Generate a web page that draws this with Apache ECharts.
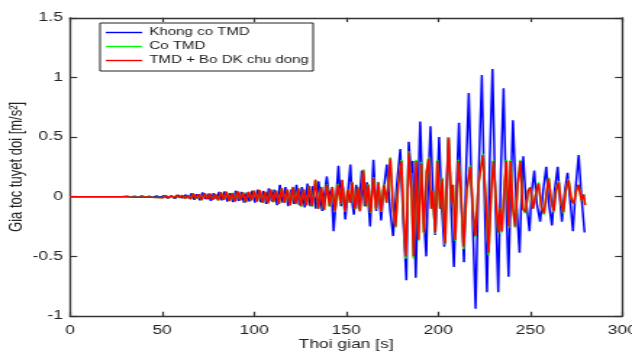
<!DOCTYPE html>
<html>
<head>
<meta charset="utf-8">
<script src="https://cdn.jsdelivr.net/npm/echarts@6/dist/echarts.min.js"></script>
<style>
  html, body { margin: 0; padding: 0; background: #fff; }
  #wrap { width: 632px; height: 354px; overflow: hidden; position: relative; }
  /* the figure is laid out narrow and widened, like the exported plot */
  #chart { width: 436px; height: 354px; transform: scaleX(1.4495); transform-origin: 0 0; }
</style>
</head>
<body>
<div id="wrap"><div id="chart"></div></div>
<script>
// Time axis ticks
const xTicks = [0, 50, 100, 150, 200, 250, 300];
const yTicks = [-1, -0.5, 0, 0.5, 1, 1.5];

const seriesNames = ['Khong co TMD', 'Co TMD', 'TMD + Bo DK chu dong'];

// Without TMD: time [s] and absolute acceleration [m/s^2]
const noTmdTime = [
  0, 28, 31, 33, 35, 37, 39, 41, 43, 45, 47, 49,
  51, 53, 55, 57, 59, 61, 63, 64.5,
  66, 67.5, 69, 70.5, 72, 73.5, 75, 76.5, 78, 79.5,
  81, 82.5, 84, 85.5, 87, 88.5, 90, 91.5, 93, 94.5, 96, 97.5, 99,
  100.5, 102, 103.5, 105, 106.5, 108, 109.5, 111, 112.5, 114,
  115.5, 117, 118.5, 120, 121.5, 123, 124.5, 126, 127.5, 129,
  130.5, 132, 133.5, 135, 137, 139.5,
  141, 142, 143.2, 144.5, 145.8, 147.2, 148.2, 149.5, 151, 152.3, 153.3, 154.2, 155.5, 156.8, 158.5, 160,
  161.3, 163, 164.8, 166.3, 167.5, 169, 170.3, 172.1, 173.8, 175.5, 177.5, 179.4,
  181, 182.7, 184, 185.3, 186.2, 187.8, 189, 190.2, 191.8, 193.5, 194.5, 195.8, 197, 198.4, 199.3,
  200.5, 202, 203.3, 204.5, 205.6, 207, 208.5, 210, 211.3, 212.7, 214, 215.3, 216.6, 218.3,
  220.3, 222, 223.7, 225, 226.5, 228, 229.5, 231, 232.6, 234, 235.5, 237, 238.2, 239.5,
  240.6, 242.3, 244.2, 245, 246.2, 247.5, 249.6, 250.8, 252.2, 253.5, 255.4, 257, 258.7, 260,
  261.8, 263.2, 264.9, 266, 267.2, 268.8, 270.3, 271.5, 273.2, 274.8, 276.3, 277.8, 279.5
];
const noTmdAcc = [
  0, 0, 0.004, -0.003, 0.005, -0.004, 0.006, -0.005, 0.004, -0.006, 0.007, -0.005,
  0.01, -0.012, 0.008, -0.015, 0.012, -0.01, 0.016, -0.012,
  0.03, -0.025, 0.02, -0.03, 0.035, -0.02, 0.025, -0.035, 0.03, -0.02,
  0.04, -0.03, 0.045, -0.04, 0.03, -0.045, 0.05, -0.035, 0.04, -0.05, 0.035, -0.04, 0.05,
  -0.05, 0.06, -0.045, 0.05, -0.06, 0.07, -0.04, 0.06, -0.07, 0.1,
  -0.05, 0.08, -0.08, 0.06, -0.06, 0.1, -0.07, 0.08, -0.09, 0.11,
  -0.08, 0.09, -0.1, 0.13, -0.12, 0.17,
  -0.02, 0.06, -0.29, -0.02, 0.26, -0.08, 0.08, -0.19, 0.05, 0.27, -0.05, -0.15, 0.1, -0.1, 0.22, -0.08,
  0.12, -0.25, 0.31, -0.12, 0.1, -0.2, 0.05, 0.27, -0.1, -0.33, 0.1, 0.4,
  -0.2, -0.7, 0.46, 0.2, 0.3, -0.68, 0, 0.63, -0.1, -0.5, 0.1, 0.59, 0.1, -0.32, 0,
  0.5, -0.1, -0.42, 0.1, 0.5, -0.1, -0.59, 0.1, 0.62, -0.1, -0.55, 0.3, 0.87, 0,
  -0.94, 0.2, 1.02, 0.1, -0.8, 0.3, 1.07, 0, -0.8, 0.2, 0.91, -0.1, -0.67, 0.1,
  0.64, 0, -0.47, -0.1, 0.34, 0, -0.29, 0.05, 0.22, -0.05, -0.21, 0.05, 0.25, -0.05,
  -0.24, 0.05, 0.25, 0, -0.21, 0.05, 0.2, 0, -0.29, 0.1, 0.35, 0, -0.3
];

// With TMD and with TMD + active controller share one time base
const tmdTime = [
  0, 30, 31, 32.5, 34, 35.5, 37, 38.5, 40, 41.5, 43, 44.5, 46, 47.5, 49,
  50.5, 52, 53.5, 55, 56.5, 58, 59.5, 61, 62.5, 64,
  65.5, 67, 68.5, 70, 71.5, 73, 74.5, 76, 77.5, 79,
  80.5, 82, 83.5, 85, 86.5, 88, 89.5, 91, 92.5, 94, 95.5, 97, 98.5,
  100, 101.5, 103, 104.5, 106, 107.5, 109, 110.5, 112, 113.5,
  115, 116.5, 118, 119.5, 121, 122.5, 124, 125.5, 127, 128.5, 130,
  131.5, 133.3, 135, 136.5, 138, 139.5,
  141, 142.5, 144, 145.5, 147, 147.8, 149.3, 150.8, 152, 153.3, 154.8, 156.3, 157.5, 159.4,
  160.8, 162, 163.3, 164.8, 166.2, 167.5, 169, 170.5, 172, 174, 175.5, 176.8, 178.3,
  180, 181.3, 182.4, 184, 185.5, 186.6, 188, 189.3, 190.8, 192.2, 193.6, 194.8, 196.2, 197, 198.4, 199.5,
  201, 202.2, 203.8, 205.6, 207.2, 208, 209.3, 211, 212.3, 213.8, 215.5, 217.4, 218.8,
  220.2, 221.8, 224.3, 225.8, 227.4, 229, 230, 231.3, 232.6, 233.5, 234.6, 236, 237, 238.3, 239.3,
  240.6, 241.8, 243.2, 244.6, 246, 247.5, 248.8, 250, 251.5, 253, 254.5, 256, 257.5, 259,
  260, 261.5, 262.8, 264, 265.4, 266.8, 268, 269.3, 270.8, 272.3, 273.5, 275, 276.3, 277.8, 279, 279.8
];
const tmdAcc = [
  0, 0, 0.003, -0.003, 0.004, -0.004, 0.003, -0.005, 0.004, -0.003, 0.005, -0.005, 0.004, -0.006, 0.005,
  -0.008, 0.011, -0.012, 0.009, -0.01, 0.014, -0.009, 0.012, -0.015, 0.01,
  -0.02, 0.026, -0.016, 0.02, -0.03, 0.03, -0.021, 0.026, -0.026, 0.02,
  -0.032, 0.036, -0.026, 0.042, -0.036, 0.031, -0.042, 0.046, -0.031, 0.036, -0.047, 0.041, -0.031,
  0.052, -0.041, 0.057, -0.052, 0.041, -0.057, 0.062, -0.046, 0.052, -0.062,
  0.072, -0.052, 0.062, -0.072, 0.083, -0.062, 0.072, -0.083, 0.062, -0.072, 0.093,
  -0.083, 0.145, -0.104, 0.083, -0.114, 0.104,
  -0.083, 0.083, -0.125, 0.104, -0.062, 0.145, -0.125, 0.062, -0.052, 0.125, -0.104, 0.083, -0.125, 0.23,
  -0.083, 0.104, -0.135, 0.166, -0.104, 0.125, -0.125, 0.104, -0.052, 0.33, -0.104, -0.26, 0.104,
  0.31, -0.21, -0.52, 0.38, 0.05, -0.52, 0.31, -0.37, 0.29, -0.31, 0.21, 0.33, -0.1, 0.05, -0.31, 0.31,
  -0.1, 0.16, -0.4, 0.5, -0.05, 0.1, -0.37, 0.31, 0.05, -0.44, 0.05, 0.26, -0.1,
  -0.34, 0.1, 0.36, 0, -0.49, 0.1, 0.31, 0, -0.31, -0.1, -0.3, 0.1, 0.31, -0.26, 0.31,
  -0.1, -0.26, 0.1, 0.31, -0.1, -0.14, 0.05, 0.08, -0.1, 0.02, 0.12, -0.08, -0.15, 0.05,
  0.16, -0.05, -0.13, 0.05, 0.13, -0.06, -0.14, 0.05, 0.15, -0.02, -0.06, 0.05, 0.1, -0.03, 0.02, -0.07
];
const activeAcc = [
  0, 0, 0.003, -0.003, 0.004, -0.004, 0.003, -0.005, 0.004, -0.003, 0.005, -0.005, 0.004, -0.006, 0.005,
  -0.008, 0.01, -0.012, 0.008, -0.01, 0.014, -0.008, 0.012, -0.014, 0.01,
  -0.02, 0.025, -0.015, 0.02, -0.028, 0.03, -0.02, 0.025, -0.025, 0.02,
  -0.03, 0.035, -0.025, 0.04, -0.035, 0.03, -0.04, 0.045, -0.03, 0.035, -0.045, 0.04, -0.03,
  0.05, -0.04, 0.055, -0.05, 0.04, -0.055, 0.06, -0.045, 0.05, -0.06,
  0.07, -0.05, 0.06, -0.07, 0.08, -0.06, 0.07, -0.08, 0.06, -0.07, 0.09,
  -0.08, 0.14, -0.1, 0.08, -0.11, 0.1,
  -0.08, 0.08, -0.12, 0.1, -0.06, 0.14, -0.12, 0.06, -0.05, 0.12, -0.1, 0.08, -0.12, 0.22,
  -0.08, 0.1, -0.13, 0.16, -0.1, 0.12, -0.12, 0.1, -0.05, 0.32, -0.1, -0.25, 0.1,
  0.3, -0.2, -0.5, 0.37, 0.05, -0.5, 0.3, -0.36, 0.28, -0.3, 0.2, 0.32, -0.1, 0.05, -0.3, 0.3,
  -0.1, 0.15, -0.39, 0.49, -0.05, 0.1, -0.36, 0.3, 0.05, -0.42, 0.05, 0.25, -0.1,
  -0.33, 0.1, 0.35, 0, -0.47, 0.1, 0.3, 0, -0.3, -0.1, -0.29, 0.1, 0.3, -0.25, 0.3,
  -0.1, -0.25, 0.1, 0.3, -0.1, -0.13, 0.05, 0.08, -0.1, 0.02, 0.11, -0.08, -0.14, 0.05,
  0.15, -0.05, -0.12, 0.05, 0.12, -0.06, -0.13, 0.05, 0.14, -0.02, -0.06, 0.05, 0.1, -0.03, 0.02, -0.07
];

const zip = (t, v) => t.map((x, i) => [x, v[i]]);

const axisColor = '#333';
const textColor = '#222';
const font = 'Arial, "Liberation Sans", Helvetica, sans-serif';

const xBase = {
  type: 'value', min: xTicks[0], max: xTicks[xTicks.length - 1], interval: 50,
  splitLine: { show: false },
  axisLine: { show: true, onZero: false, lineStyle: { color: axisColor, width: 1.3 } },
  axisTick: { show: true, inside: true, length: 4.3, lineStyle: { color: axisColor, width: 1.2 } }
};
const yBase = {
  type: 'value', min: yTicks[0], max: yTicks[yTicks.length - 1], interval: 0.5,
  splitLine: { show: false },
  axisLine: { show: true, onZero: false, lineStyle: { color: axisColor, width: 1.3 } },
  axisTick: { show: true, inside: true, length: 5, lineStyle: { color: axisColor, width: 1.2 } }
};

const chart = echarts.init(document.getElementById('chart'));
chart.setOption({
  animation: false,
  backgroundColor: '#fff',
  grid: { left: 48.3, right: 6.7, top: 17.8, bottom: 38, containLabel: false, outerBoundsMode: 'none' },
  legend: {
    orient: 'vertical',
    left: 69, top: 23,
    padding: [2.5, 3, 3.5, 4],
    itemGap: 0,
    icon: 'rect',
    itemWidth: 25, itemHeight: 1.4,
    backgroundColor: '#fff',
    borderColor: '#222', borderWidth: 1, borderRadius: 0,
    textStyle: { fontFamily: font, fontSize: 10.4, color: textColor, lineHeight: 14 },
    data: seriesNames
  },
  xAxis: [
    Object.assign({}, xBase, {
      position: 'bottom',
      name: 'Thoi gian [s]', nameLocation: 'middle', nameGap: 23, nameMoveOverlap: false,
      nameTextStyle: { fontFamily: font, fontSize: 12, color: textColor },
      axisLabel: { show: true, margin: 9, fontFamily: font, fontSize: 12, color: textColor }
    }),
    Object.assign({}, xBase, { position: 'top', axisLabel: { show: false } })
  ],
  yAxis: [
    Object.assign({}, yBase, {
      position: 'left',
      name: 'Gia toc tuyet doi [m/s²]', nameLocation: 'middle', nameGap: 30, nameMoveOverlap: false,
      nameTextStyle: { fontFamily: font, fontSize: 13, color: textColor },
      axisLabel: { show: true, margin: 5, fontFamily: font, fontSize: 12, color: textColor }
    }),
    Object.assign({}, yBase, { position: 'right', axisLabel: { show: false } })
  ],
  series: [
    { name: seriesNames[0], type: 'line', data: zip(noTmdTime, noTmdAcc), color: '#0000ff',
      symbol: 'none', lineStyle: { width: 1.5, color: '#0000ff' } },
    { name: seriesNames[1], type: 'line', data: zip(tmdTime, tmdAcc), color: '#00ff00',
      symbol: 'none', lineStyle: { width: 1.5, color: '#00ff00' } },
    { name: seriesNames[2], type: 'line', data: zip(tmdTime, activeAcc), color: '#ff0000',
      symbol: 'none', lineStyle: { width: 1.5, color: '#ff0000' } }
  ]
});
</script>
</body>
</html>
